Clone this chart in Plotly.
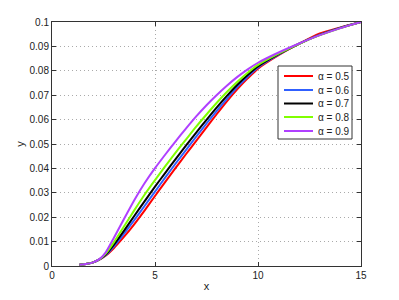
import plotly.graph_objects as go

# x positions shared by all curves
x_vals = [1.33, 1.7, 2.0, 2.3, 2.6, 3.0, 3.5, 4.0, 4.5, 5.0, 5.5, 6.0, 6.5, 7.0, 7.5,
          8.0, 8.5, 9.0, 9.5, 10.0, 11.0, 12.0, 13.0, 14.0, 15.0]

y_a05 = [0.0005, 0.0009, 0.0015, 0.0026, 0.0042, 0.0073, 0.0120, 0.0172, 0.0228, 0.0287, 0.0345,
         0.0402, 0.0458, 0.0513, 0.0568, 0.0623, 0.0676, 0.0725, 0.0769, 0.0809, 0.0864, 0.0911,
         0.0953, 0.0978, 0.1000]
y_a06 = [0.0005, 0.0009, 0.0015, 0.0026, 0.0044, 0.0080, 0.0133, 0.0189, 0.0247, 0.0305, 0.0363,
         0.0420, 0.0475, 0.0530, 0.0584, 0.0636, 0.0686, 0.0734, 0.0776, 0.0814, 0.0866, 0.0911,
         0.0948, 0.0977, 0.1000]
y_a07 = [0.0005, 0.0009, 0.0015, 0.0027, 0.0046, 0.0087, 0.0145, 0.0206, 0.0266, 0.0325, 0.0382,
         0.0438, 0.0493, 0.0547, 0.0599, 0.0650, 0.0698, 0.0743, 0.0783, 0.0818, 0.0868, 0.0911,
         0.0947, 0.0976, 0.1000]
y_a08 = [0.0005, 0.0009, 0.0015, 0.0027, 0.0050, 0.0097, 0.0163, 0.0229, 0.0293, 0.0352, 0.0409,
         0.0465, 0.0518, 0.0571, 0.0621, 0.0669, 0.0714, 0.0755, 0.0792, 0.0824, 0.0870, 0.0911,
         0.0946, 0.0975, 0.1000]
y_a09 = [0.0005, 0.0009, 0.0015, 0.0028, 0.0055, 0.0115, 0.0194, 0.0271, 0.0340, 0.0401, 0.0457,
         0.0511, 0.0563, 0.0613, 0.0659, 0.0701, 0.0740, 0.0775, 0.0806, 0.0833, 0.0875, 0.0912,
         0.0946, 0.0975, 0.1000]

series_names = ["α = 0.5", "α = 0.6", "α = 0.7", "α = 0.8", "α = 0.9"]
series_y = [y_a05, y_a06, y_a07, y_a08, y_a09]
colors = ["#ff0000", "#3060ff", "#000000", "#80ff00", "#b040ff"]

x_ticks = [0, 5, 10, 15]
y_ticks = [0, 0.01, 0.02, 0.03, 0.04, 0.05, 0.06, 0.07, 0.08, 0.09, 0.1]
y_tick_labels = ["0", "0.01", "0.02", "0.03", "0.04", "0.05", "0.06", "0.07", "0.08", "0.09", "0.1"]

# page body has an 8px default margin; size the figure to fit the 399x300 window
OFF = 8
W, H = 399 - OFF, 300 - OFF
# plot area wanted in window pixels: x 52..361, y 22..266
PL, PR, PT, PB = 52, 361, 22, 266
ML, MR, MT, MB = PL - OFF, (W + OFF) - PR, PT - OFF, (H + OFF) - PB
PW, PH = PR - PL, PB - PT


def px(xp):
    return (xp - PL) / PW


def py(yp):
    return (PB - yp) / PH


fig = go.Figure()
for name, ys, c in zip(series_names, series_y, colors):
    fig.add_trace(go.Scatter(x=x_vals, y=ys, mode="lines", name=name,
                             line=dict(color=c, width=2, shape="spline", smoothing=0.6)))

axis_common = dict(showline=True, linecolor="#333333", linewidth=1, mirror="ticks",
                   ticks="inside", ticklen=4, tickcolor="#333333",
                   showgrid=True, gridcolor="#aaaaaa", griddash="1px,3px", gridwidth=1,
                   zeroline=False, automargin=False,
                   tickfont=dict(size=10, color="#222222"))

fig.update_xaxes(range=[0, 15], tickvals=x_ticks,
                 title=dict(text="x", font=dict(size=11, color="#222222"), standoff=2),
                 **axis_common)
fig.update_yaxes(range=[0, 0.1], tickvals=y_ticks, ticktext=y_tick_labels,
                 title=dict(text="y", font=dict(size=11, color="#222222"), standoff=2),
                 **axis_common)

# manual legend box (MATLAB style, compact rows)
shapes = [dict(type="rect", xref="paper", yref="paper",
               x0=px(278), x1=px(352), y0=py(139), y1=py(66),
               line=dict(color="#333333", width=1), fillcolor="white", layer="above")]
annotations = []
row_y = [76, 90, 103.5, 117, 131]
for name, c, ry in zip(series_names, colors, row_y):
    shapes.append(dict(type="line", xref="paper", yref="paper",
                       x0=px(284), x1=px(313), y0=py(ry), y1=py(ry),
                       line=dict(color=c, width=2), layer="above"))
    annotations.append(dict(xref="paper", yref="paper", x=px(316), y=py(ry),
                            xanchor="left", yanchor="middle", showarrow=False,
                            text=name, font=dict(size=10, color="#222222")))

fig.update_layout(
    width=W, height=H,
    margin=dict(l=ML, r=MR, t=MT, b=MB),
    paper_bgcolor="white", plot_bgcolor="white",
    font=dict(family="Liberation Sans, Arial, sans-serif", size=10, color="#222222"),
    showlegend=False,
    shapes=shapes,
    annotations=annotations,
)

fig.write_html("out.html")
